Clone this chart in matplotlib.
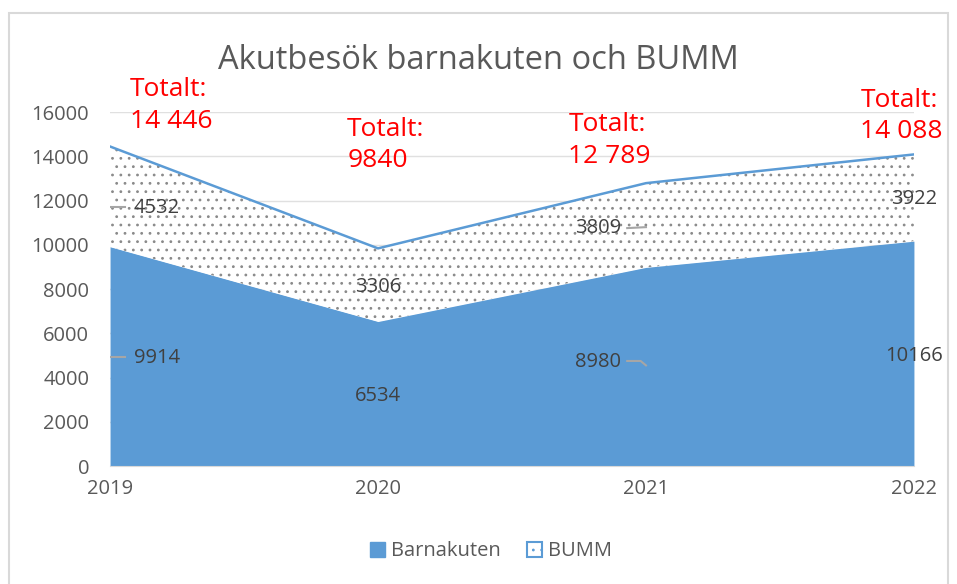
import numpy as np
import matplotlib.pyplot as plt
from matplotlib.patches import Rectangle, Patch

plt.rcParams['font.family'] = ['Open Sans', 'DejaVu Sans']
plt.rcParams['hatch.color'] = '#8a8a8a'
plt.rcParams['hatch.linewidth'] = 0.8

years = [2019, 2020, 2021, 2022]
barnakuten = [9914, 6534, 8980, 10166]
bumm = [4532, 3306, 3809, 3922]

blue = '#5b9bd5'
grey = '#595959'

fig = plt.figure(figsize=(9.57, 5.84), dpi=100)
ax = fig.add_axes([0.115, 0.202, 0.84, 0.606])

total = np.array(barnakuten) + np.array(bumm)
ax.fill_between(years, 0, barnakuten, color=blue, lw=0, zorder=2)
ax.fill_between(years, barnakuten, total, facecolor='white', hatch='..',
                edgecolor='#8a8a8a', lw=0, zorder=2)
ax.plot(years, total, color=blue, lw=1.8, zorder=3)

ax.set_xlim(2019, 2022)
ax.set_ylim(0, 16000)
ax.set_yticks(range(0, 16001, 2000))
ax.set_xticks(years)
ax.grid(axis='y', color='#e0e0e0', lw=1, zorder=0)
for s in ['top', 'right', 'left']:
    ax.spines[s].set_visible(False)
ax.spines['bottom'].set_color('#d9d9d9')
ax.tick_params(length=0, labelsize=14.5, colors=grey)
ax.tick_params(axis='x', pad=9)
ax.tick_params(axis='y', pad=15)

# datalabels (barnakuten, bumm)
lab_x = [2019.175, 2020.0, 2020.82, 2022.0]
lab_b = [4881, 3164, 4700, 4972]
lab_u = [11661, 8090, 10757, 12068]
for i in range(4):
    ax.text(lab_x[i], lab_b[i], str(barnakuten[i]), ha='center', va='center',
            fontsize=14.5, color='#404040', zorder=5)
    ax.text(lab_x[i], lab_u[i], str(bumm[i]), ha='center', va='center',
            fontsize=14.5, color='#404040', zorder=5)
# leader lines
ax.plot([2019.0, 2019.055], [4950, 4950], color='#a6a6a6', lw=1.5, zorder=4)
ax.plot([2019.0, 2019.055], [11700, 11700], color='#a6a6a6', lw=1.5, zorder=4)
ax.plot([2020.93, 2021.0], [10757, 10800], color='#a6a6a6', lw=1.5, zorder=4)
ax.plot([2020.93, 2020.98, 2021.0], [4750, 4750, 4550], color='#a6a6a6', lw=1.5, zorder=4)

# totals in red
def fmt(v):
    return f'{v:,}'.replace(',', ' ') if v >= 10000 else str(v)

tot_x = [2019.075, 2019.885, 2020.71, 2021.80]
tot_y = [15020, 13240, 13450, 14540]
for i in range(4):
    ax.text(tot_x[i], tot_y[i], 'Totalt:\n' + fmt(int(total[i])), color='red',
            fontsize=19, ha='left', va='bottom', linespacing=1.35,
            clip_on=False, zorder=6)

fig.suptitle('Akutbesök barnakuten och BUMM', y=0.925, fontsize=23.5, color=grey)

handles = [Patch(facecolor=blue, edgecolor=blue),
           Patch(facecolor='white', edgecolor=blue, hatch='..', lw=1.5)]
fig.legend(handles, ['Barnakuten', 'BUMM'], loc='center', bbox_to_anchor=(0.513, 0.056),
           ncol=2, frameon=False, fontsize=14.5, handlelength=0.75, handleheight=0.75,
           handletextpad=0.3, columnspacing=1.3, labelcolor=grey)

fig.patches.append(Rectangle((0.0094, -0.02), 0.9812, 0.998, transform=fig.transFigure,
                             fill=False, edgecolor='#d9d9d9', lw=1.5))

fig.savefig('out.png', dpi=100)
